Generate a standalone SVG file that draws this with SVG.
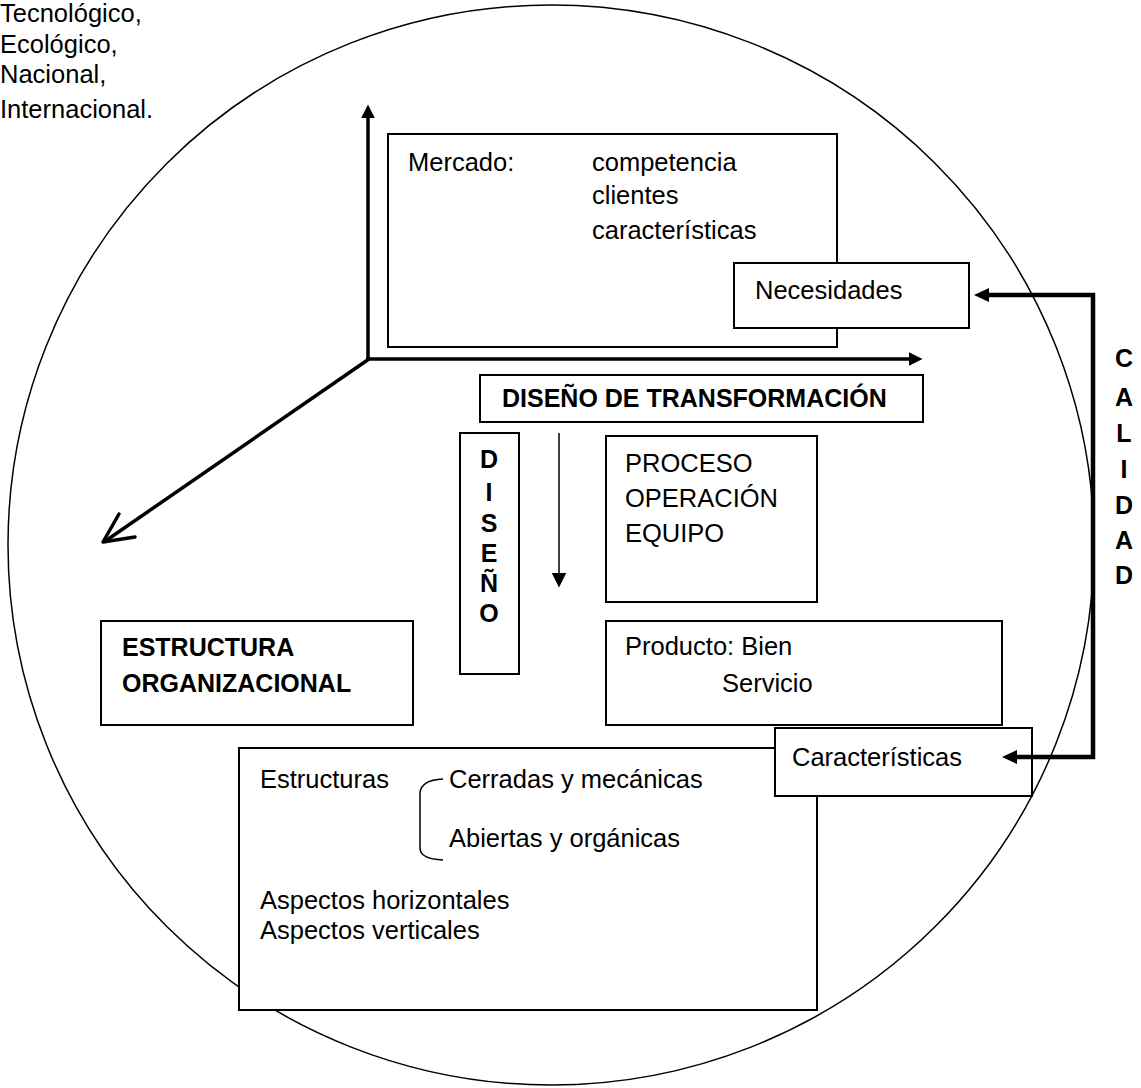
<svg xmlns="http://www.w3.org/2000/svg" width="1141" height="1088" viewBox="0 0 1141 1088">
<defs>
<style>
.t{font-family:"Liberation Sans",Arial,sans-serif;font-size:25.5px;fill:#000}
.b{font-family:"Liberation Sans",Arial,sans-serif;font-size:25px;font-weight:bold;fill:#000}
.box{fill:#fff;stroke:#000;stroke-width:2}
.ax{fill:none;stroke:#000;stroke-width:3.5}
</style>
<marker id="tri" viewBox="0 0 10 10" refX="1" refY="5" markerWidth="4" markerHeight="4" orient="auto" markerUnits="strokeWidth"><path d="M0,0 L10,5 L0,10 z" fill="#000"/></marker>
<marker id="triS" viewBox="0 0 10 10" refX="1" refY="5" markerWidth="10" markerHeight="10" orient="auto" markerUnits="strokeWidth"><path d="M0,0 L10,5 L0,10 z" fill="#000"/></marker>
</defs>
<rect width="1141" height="1088" fill="#fff"/>
<ellipse cx="551" cy="545" rx="543" ry="540" fill="none" stroke="#000" stroke-width="1.5"/>

<g id="entorno">
<text class="t" x="0" y="22">Tecnológico,</text>
<text class="t" x="0" y="53">Ecológico,</text>
<text class="t" x="0" y="83">Nacional,</text>
<text class="t" x="0" y="118">Internacional.</text>
</g>

<g id="mercado">
<rect class="box" x="388" y="134" width="449" height="213"/>
<text class="t" x="408" y="171">Mercado:</text>
<text class="t" x="592" y="171">competencia</text>
<text class="t" x="592" y="204">clientes</text>
<text class="t" x="592" y="239">características</text>
</g>
<g id="necesidades">
<rect class="box" x="734" y="263" width="235" height="65"/>
<text class="t" x="755" y="299">Necesidades</text>
</g>

<g id="diseno-transformacion">
<rect class="box" x="480" y="375" width="443" height="47"/>
<text class="b" x="502" y="407" font-size="24">DISEÑO DE TRANSFORMACIÓN</text>
</g>

<g id="diseno">
<rect class="box" x="460" y="433" width="59" height="241"/>
<g class="b" text-anchor="middle">
<text x="489" y="468">D</text>
<text x="489" y="501">I</text>
<text x="489" y="532">S</text>
<text x="489" y="562">E</text>
<text x="489" y="592">Ñ</text>
<text x="489" y="622">O</text>
</g>
</g>

<g id="proceso">
<rect class="box" x="606" y="436" width="211" height="166"/>
<text class="t" x="625" y="472">PROCESO</text>
<text class="t" x="625" y="507">OPERACIÓN</text>
<text class="t" x="625" y="542">EQUIPO</text>
</g>

<g id="producto">
<rect class="box" x="606" y="621" width="396" height="104"/>
<text class="t" x="625" y="655">Producto: Bien</text>
<text class="t" x="722" y="692">Servicio</text>
</g>

<g id="estructura-organizacional">
<rect class="box" x="101" y="621" width="312" height="104"/>
<text class="b" x="122" y="656" font-size="26">ESTRUCTURA</text>
<text class="b" x="122" y="692" font-size="26">ORGANIZACIONAL</text>
</g>

<g id="estructuras">
<rect class="box" x="239" y="748" width="578" height="262"/>
<text class="t" x="260" y="788">Estructuras</text>
<path d="M443,779 Q421,780 420,793 L420,848 Q420,859 443,860" fill="none" stroke="#000" stroke-width="1.5"/>
<text class="t" x="449" y="788">Cerradas y mecánicas</text>
<text class="t" x="449" y="847">Abiertas y orgánicas</text>
<text class="t" x="260" y="909">Aspectos horizontales</text>
<text class="t" x="260" y="939">Aspectos verticales</text>
</g>

<g id="caracteristicas">
<rect class="box" x="775" y="728" width="257" height="68"/>
<text class="t" x="792" y="766">Características</text>
</g>

<g id="calidad" class="b" text-anchor="middle" font-size="24">
<text x="1124" y="367">C</text>
<text x="1124" y="406">A</text>
<text x="1124" y="442">L</text>
<text x="1124" y="478">I</text>
<text x="1124" y="514">D</text>
<text x="1124" y="549">A</text>
<text x="1124" y="584">D</text>
</g>

<g id="connectors">
<line class="ax" x1="368" y1="361" x2="368" y2="117" marker-end="url(#tri)"/>
<line class="ax" x1="366" y1="359" x2="910" y2="359" marker-end="url(#tri)"/>
<line class="ax" x1="369" y1="359" x2="104" y2="542"/>
<path d="M119,514 L103,542 L135,537" class="ax" stroke-linecap="round" stroke-linejoin="round"/>
<line x1="559" y1="433" x2="559" y2="574" stroke="#000" stroke-width="1.5" marker-end="url(#triS)"/>
<polyline points="987,295 1093,295 1093,757 1016,757" fill="none" stroke="#000" stroke-width="4.5"/>
<path d="M974,295 L989,288 L989,302 z" fill="#000"/>
<path d="M1002,757 L1017,750 L1017,764 z" fill="#000"/>
</g>
</svg>
